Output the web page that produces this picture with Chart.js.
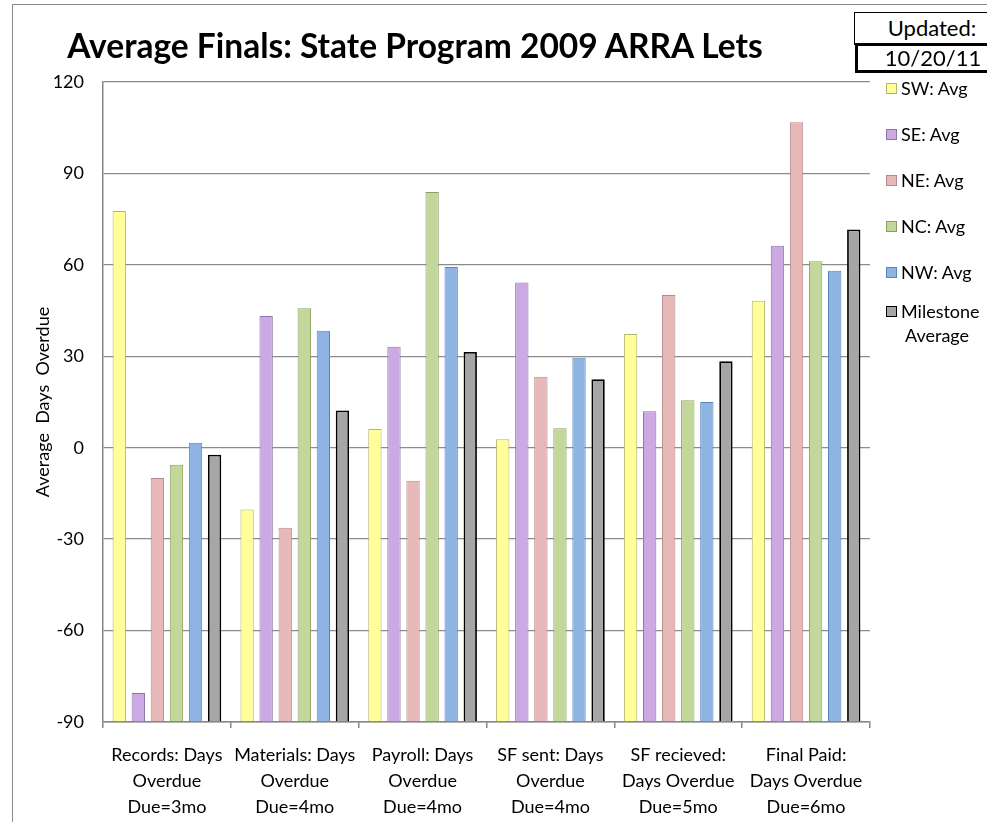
<!DOCTYPE html>
<html>
<head>
<meta charset="utf-8">
<script src="https://cdn.jsdelivr.net/npm/chart.js@4"></script>
<style>
  html, body { margin: 0; padding: 0; background: #fff; }
  body { width: 987px; height: 822px; position: relative; overflow: hidden; font-family: Lato, "Noto Sans", sans-serif; }
  #frame { position: absolute; left: 12px; top: 4px; width: 1000px; height: 900px; border-left: 1.5px solid #8a8a8a; border-top: 1.5px solid #8a8a8a; }
  #title { position: absolute; left: 0; width: 830px; top: 25px; text-align: center; font-weight: bold; font-size: 33.5px; color: #000; white-space: nowrap; }
  .ubox { position: absolute; background: #fff; color: #000; font-size: 22px; text-align: center; box-sizing: border-box; }
  #u1 { left: 854px; top: 12px; width: 156px; height: 33px; border: 1.5px solid #000; line-height: 30px; }
  #u2 { left: 855px; top: 43px; width: 156px; height: 30px; border: 3px solid #000; line-height: 24px; }
  #legend { position: absolute; left: 886px; top: 0; }
  .li { position: absolute; left: 0; white-space: nowrap; font-size: 18px; color: #000; }
  .sw { position: absolute; left: 0; width: 9px; height: 9px; }
  .lt { position: absolute; left: 15px; line-height: 24px; }
  canvas { position: absolute; left: 0; top: 0; }
</style>
</head>
<body>
<div id="frame"></div>
<canvas id="c" width="987" height="822"></canvas>
<div id="title">Average Finals: State Program 2009 ARRA Lets</div>
<div class="ubox" id="u1">Updated:</div>
<div class="ubox" id="u2">10/20/11</div>
<div id="legend"></div>
<script>
const categories = [
  ["Records: Days", "Overdue", "Due=3mo"],
  ["Materials: Days", "Overdue", "Due=4mo"],
  ["Payroll: Days", "Overdue", "Due=4mo"],
  ["SF sent: Days", "Overdue", "Due=4mo"],
  ["SF recieved:", "Days Overdue", "Due=5mo"],
  ["Final Paid:", "Days Overdue", "Due=6mo"]
];
const seriesLabels = ["SW: Avg", "SE: Avg", "NE: Avg", "NC: Avg", "NW: Avg", "Milestone Average"];
const swAvg = [77.7, -20.3, 6.1, 2.8, 37.3, 48.2];
const seAvg = [-80.5, 43.2, 33.1, 54.2, 12.0, 66.3];
const neAvg = [-9.9, -26.3, -10.8, 23.3, 50.1, 106.8];
const ncAvg = [-5.6, 45.8, 83.9, 6.4, 15.6, 61.2];
const nwAvg = [1.6, 38.4, 59.3, 29.5, 15.0, 58.1];
const milestoneAvg = [-2.3, 12.2, 31.4, 22.5, 28.4, 71.6];
const yTicks = [-90, -60, -30, 0, 30, 60, 90, 120];

const fills = ["#FFFF99", "#CCA9E3", "#E6B8B7", "#C4D79B", "#8DB4E2", "#A6A6A6"];
const borders = ["#B5B56A", "#8E74AE", "#B48A89", "#8BA05E", "#5A84B8", "#000000"];
const borderW = [1, 1, 1, 1, 1, 1.8];
const values = [swAvg, seAvg, neAvg, ncAvg, nwAvg, milestoneAvg];

const FONT = "Lato, 'Noto Sans', sans-serif";

const datasets = values.map((v, i) => ({
  label: seriesLabels[i],
  data: v,
  base: yTicks[0],
  backgroundColor: fills[i],
  borderColor: borders[i],
  borderWidth: borderW[i],
  borderSkipped: 'bottom',
  categoryPercentage: 0.895,
  barPercentage: 0.70
}));

const chart = new Chart(document.getElementById('c'), {
  type: 'bar',
  data: { labels: categories, datasets },
  options: {
    responsive: false,
    animation: false,
    devicePixelRatio: 1,
    layout: { padding: { left: 13, top: 82, right: 117, bottom: 0 } },
    plugins: { legend: { display: false }, tooltip: { enabled: false }, title: { display: false } },
    scales: {
      x: {
        grid: { offset: true, drawOnChartArea: false, drawTicks: true, tickLength: 6, color: '#868686', lineWidth: 1.5 },
        border: { color: '#868686', width: 1.5 },
        ticks: { color: '#000', font: { family: FONT, size: 18, lineHeight: 1.44 }, padding: 14, maxRotation: 0, minRotation: 0, autoSkip: false },
        afterFit: s => { s.height = 100; }
      },
      y: {
        min: -90, max: 120,
        afterBuildTicks: s => { s.ticks = yTicks.map(v => ({ value: v })); },
        grid: { color: '#8c8c8c', lineWidth: 1.3, drawTicks: false },
        border: { color: '#868686', width: 1.5 },
        ticks: { color: '#000', font: { family: FONT, size: 18 }, padding: 19 },
        title: { display: true, text: 'Average  Days  Overdue', color: '#000', font: { family: FONT, size: 18 }, padding: { top: 19, bottom: 0 } },
        afterFit: s => { s.width = 90; }
      }
    }
  }
});

// legend built from the datasets
const legendTops = [88, 134, 180, 226, 272, 311];
const leg = document.getElementById('legend');
chart.data.datasets.forEach((ds, i) => {
  const item = document.createElement('div');
  item.className = 'li';
  item.style.top = (legendTops[i] - 12) + 'px';
  const sw = document.createElement('div');
  sw.className = 'sw';
  sw.style.top = '7px';
  sw.style.background = ds.backgroundColor;
  sw.style.border = (i === 5 ? '1.5px solid #000' : '1px solid ' + ds.borderColor);
  const t = document.createElement('div');
  t.className = 'lt';
  if (i === 5) {
    t.innerHTML = 'Milestone<br><span style="padding-left:4px">Average</span>';
  } else {
    t.textContent = ds.label;
  }
  item.appendChild(sw);
  item.appendChild(t);
  leg.appendChild(item);
});
</script>
</body>
</html>
